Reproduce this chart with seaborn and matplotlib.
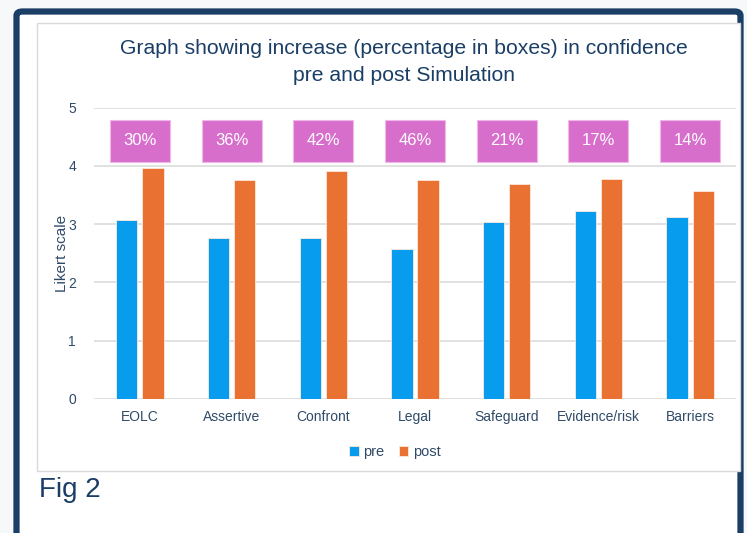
import pandas as pd
import matplotlib.pyplot as plt
import seaborn as sns
from matplotlib.patches import Rectangle, FancyBboxPatch

# values
categories = ['EOLC', 'Assertive', 'Confront', 'Legal', 'Safeguard', 'Evidence/risk', 'Barriers']
pre_scores = [3.07, 2.77, 2.76, 2.58, 3.04, 3.22, 3.12]
post_scores = [3.97, 3.76, 3.91, 3.76, 3.68, 3.78, 3.57]
increase_labels = ['30%', '36%', '42%', '46%', '21%', '17%', '14%']

NAVY = '#1b3e66'
TEXT = '#2f4a68'
PRE = '#079cee'
POST = '#e97132'
BOX = '#d86ecc'

df = pd.DataFrame({
    'category': categories * 2,
    'score': pre_scores + post_scores,
    'when': ['pre'] * len(categories) + ['post'] * len(categories),
})

sns.set_style('white')
plt.rcParams['font.family'] = ['Liberation Sans', 'DejaVu Sans']

W, H = 747, 533
fig = plt.figure(figsize=(W / 100, H / 100), dpi=100)
fig.patch.set_facecolor('#f7f8fa')

# dark frame of the slide and white chart box
fig.patches.append(FancyBboxPatch((16.5 / W, -0.05), (740.5 - 16.5) / W, (H - 11.5) / H + 0.05,
                                  boxstyle='round,pad=0,rounding_size=0.008',
                                  transform=fig.transFigure, facecolor='white',
                                  edgecolor=NAVY, linewidth=4.5, zorder=0))
fig.patches.append(Rectangle((37 / W, (H - 471) / H), (740 - 37) / W, (471 - 23) / H,
                             transform=fig.transFigure, facecolor='white',
                             edgecolor='#d9d9d9', linewidth=1.0, zorder=1))

ax = fig.add_axes([94 / W, (H - 399) / H, (736 - 94) / W, (399 - 107.5) / H])
ax.set_zorder(2)
ax.patch.set_alpha(0)

sns.barplot(data=df, x='category', y='score', hue='when', order=categories,
            hue_order=['pre', 'post'], palette=[PRE, POST], saturation=1,
            width=0.57, gap=0.19, edgecolor='#fde9dd', linewidth=0.6, ax=ax, zorder=3)

ax.set_ylim(0, 5)
ax.set_xlim(-0.5, len(categories) - 0.5)
ax.set_yticks(range(6))
ax.yaxis.grid(True, color='#d9d9d9', linewidth=1.1, zorder=0)
ax.set_axisbelow(True)
for s in ax.spines.values():
    s.set_visible(False)
ax.tick_params(axis='both', length=0, labelsize=10, labelcolor=TEXT)
ax.tick_params(axis='x', pad=8)
ax.tick_params(axis='y', pad=13)
ax.set_xlabel('')
ax.set_ylabel('Likert scale', fontsize=11, color=TEXT, labelpad=-1)

# percentage increase boxes
for i, lab in enumerate(increase_labels):
    ax.text(i, 4.43, lab, ha='center', va='center', fontsize=12, color='white', zorder=5,
            bbox=dict(boxstyle='square,pad=0.8', facecolor=BOX, edgecolor='#f0b8ea', linewidth=0.8))

sns.move_legend(ax, 'center', bbox_to_anchor=(395 / W, (H - 452) / H),
                bbox_transform=fig.transFigure, ncol=2, frameon=False, title=None,
                handlelength=0.65, handleheight=0.65, handletextpad=0.3, columnspacing=1.0,
                fontsize=10.5, labelcolor=TEXT)

fig.text(404 / W, (H - 62) / H, 'Graph showing increase (percentage in boxes) in confidence\npre and post Simulation',
         ha='center', va='center', fontsize=15.2, color=NAVY, linespacing=1.5)
fig.text(39 / W, (H - 490) / H, 'Fig 2', ha='left', va='center', fontsize=20, color=NAVY)

fig.savefig('out.png', dpi=100, facecolor=fig.get_facecolor())
